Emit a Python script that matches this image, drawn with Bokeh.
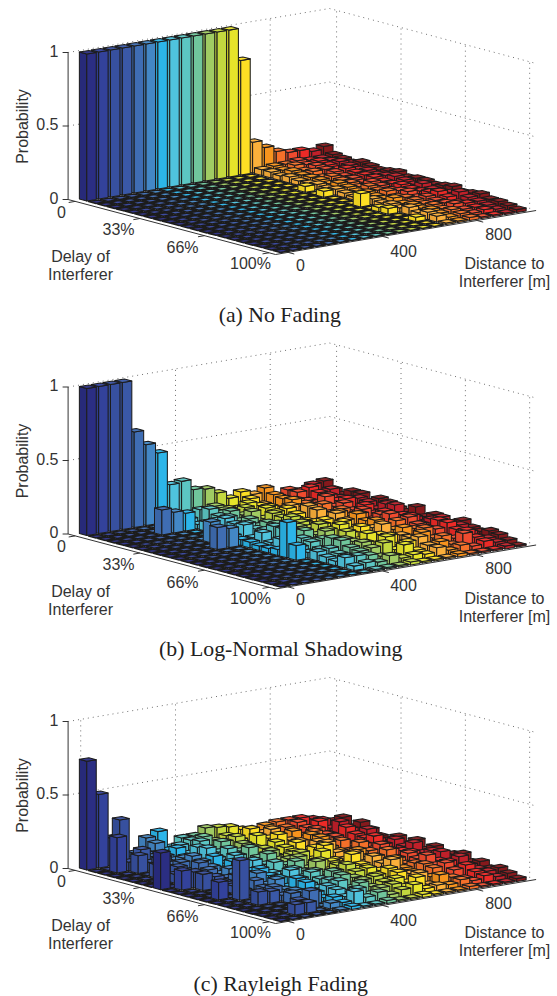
import numpy as np
from bokeh.plotting import figure
from bokeh.layouts import column
from bokeh.models import Range1d
from bokeh.core.properties import value
from bokeh.embed import file_html
from bokeh.resources import INLINE

COLORS = ["#2b2e83","#33429b","#37509f","#3a58a6","#3f6db3","#4387c5","#2cb5e9",
          "#4fc3dd","#5cc6c3","#70c69c","#a0cb63","#c3d83f","#e6e42a","#fddf24","#fbb03b",
          "#f7941e","#f4702a","#ef4b2f","#ec2a27","#c1202a","#86191c"]
DIST_TICKS = [("0",0),("400",8),("800",16)]
DELAY_TICKS = [("0",0),("33%",7),("66%",14),("100%",21)]
PROB_TICKS = [("0",0.0),("0.5",0.5),("1",1.0)]

Z = [0]*13
NO_FADING = [
 [100]*13+[78,21,16,12,10,10,8,10],
 Z+[0,4,5,5,6,5,5,6], Z+[0,4,4,6,5,6,5,5], Z+[0,3,5,4,6,5,6,4], Z+[0,4,4,5,5,4,5,6],
 Z+[0,3,4,3,5,6,4,5], Z+[0,3,4,5,4,5,5,4], Z+[4,4,3,4,4,5,4,5], Z+[0,3,5,4,3,5,5,6],
 Z+[4,4,4,3,5,4,6,4], Z+[0,3,3,5,4,4,5,5], Z+[0,2,4,4,3,5,4,5], Z+[0,3,3,5,4,4,6,4],
 Z+[9,4,3,3,5,4,4,5], Z+[0,3,5,4,3,5,4,6], Z+[3,4,3,4,5,7,5,4], Z+[4,3,4,3,4,5,7,5],
 Z+[0,5,3,4,4,3,5,6], Z+[0,3,4,3,5,4,4,4], Z+[3,5,3,4,3,3,3,4], Z+[0,4,2,3,2,3,2,3],
 Z+[0,1,1,2,1,1,1,2],
]
LOG_NORMAL = [
 [100,100,100,100,65,55,48,25,26,19,18,14,9,12,9,12,5,8,6,9,10],
 [0,0,0,0,0,0,0,0,6,4,8,5,4,9,4,9,5,8,10,3,6],
 [0,0,0,0,0,0,0,5,10,6,7,4,9,6,3,8,6,4,8,9,4],
 [0,0,0,0,17,14,12,3,12,8,5,9,4,7,4,9,5,4,8,5,8],
 [0,0,0,0,0,0,0,6,9,11,7,4,9,3,8,6,4,10,6,3,8],
 [0,0,0,0,0,0,0,9,10,6,11,5,8,9,4,5,8,5,9,8,4],
 [0,0,0,0,0,0,0,12,6,9,4,10,5,7,11,5,4,9,3,7,8],
 [0,0,0,0,0,14,0,10,9,6,5,9,7,4,10,3,8,6,8,4,7],
 [0,0,0,0,0,0,5,11,7,10,4,11,6,5,3,9,5,8,4,9,5],
 [0,0,0,0,15,13,4,4,8,11,5,9,5,8,11,4,8,3,7,10,4],
 [0,0,0,0,0,0,4,9,12,5,9,7,8,4,8,11,4,8,5,3,9],
 [0,0,0,0,0,0,3,4,12,9,5,11,4,10,5,8,3,10,8,5,4],
 [0,0,0,0,0,0,3,8,5,11,7,9,11,6,4,10,5,4,9,3,7],
 [0,0,0,0,0,0,4,5,9,6,11,4,7,10,8,4,10,11,5,7,4],
 [0,0,0,0,0,0,24,6,8,9,6,11,4,5,12,7,5,8,4,10,5],
 [0,0,0,0,0,0,10,4,5,11,9,4,10,8,4,10,8,7,11,6,8],
 [0,0,0,0,0,0,0,6,7,11,9,7,4,9,8,3,10,8,11,8,5],
 [0,0,0,0,0,0,0,4,5,8,10,5,11,4,8,10,5,3,8,5,4],
 [0,0,0,0,0,0,0,3,5,7,8,10,4,8,10,3,8,5,9,3,6],
 [0,0,0,0,0,0,0,7,7,6,4,3,9,4,6,7,4,10,6,4,5],
 [0,0,0,0,0,0,0,3,4,3,6,3,4,3,6,3,5,3,5,3,3],
 [0,0,0,0,0,0,0,0,1,1,1,2,1,1,1,2,1,1,1,2,1],
]
RAYLEIGH = [
 [74,50,19,0,6,15,18,6,11,11,15,14,13,10,7,10,11,11,11,9,4],
 [0,0,33,5,8,13,7,9,11,12,8,10,6,12,8,5,9,11,6,10,8],
 [0,24,6,13,7,6,10,5,12,6,9,11,5,8,12,7,5,9,12,6,12],
 [0,0,12,6,8,5,6,11,7,12,5,7,12,9,5,11,7,10,5,12,7],
 [0,0,0,10,5,8,4,12,8,5,11,7,5,13,8,5,11,8,5,9,12],
 [0,0,9,5,8,11,6,7,12,9,4,8,11,5,9,12,5,8,13,5,9],
 [0,0,0,8,4,9,11,5,9,13,6,5,9,11,5,12,8,5,10,12,6],
 [0,0,6,5,11,7,4,12,6,8,11,5,8,5,12,7,10,5,9,7,5],
 [25,0,0,6,8,4,11,8,5,12,7,9,4,11,13,6,5,8,12,5,9],
 [0,13,11,5,4,9,7,12,8,5,9,12,6,14,8,5,12,6,8,10,5],
 [0,0,11,8,6,5,8,6,11,8,12,5,13,6,5,10,8,11,5,7,10],
 [0,0,0,6,9,5,11,7,5,12,6,10,8,5,11,7,4,9,7,11,5],
 [0,0,0,5,4,11,8,5,10,7,12,5,7,13,6,9,12,5,8,6,9],
 [0,12,0,4,9,5,8,12,6,9,5,10,7,8,12,5,8,10,6,9,5],
 [0,0,27,0,6,10,4,8,11,5,9,12,8,5,9,11,6,8,5,10,7],
 [0,0,0,0,8,5,11,6,8,12,4,9,10,7,13,6,8,12,7,5,9],
 [0,0,9,8,4,6,10,5,9,11,8,5,7,10,6,5,9,7,8,10,5],
 [0,0,0,0,7,4,5,8,10,4,8,9,5,9,7,4,8,10,5,6,7],
 [0,0,0,0,0,8,3,7,4,9,5,7,8,4,9,5,3,7,9,5,4],
 [0,0,0,7,12,0,5,4,8,3,6,7,4,9,3,8,5,3,6,5,6],
 [0,0,7,7,0,4,3,9,4,6,3,5,7,3,4,3,5,3,5,3,4],
 [0,0,0,0,0,1,2,1,1,2,1,1,2,1,1,1,2,1,1,1,2],
]
PANELS = [("(a)  No Fading",NO_FADING,0.0,282),("(b)  Log-Normal Shadowing",LOG_NORMAL,334.5,283),("(c)  Rayleigh Fading",RAYLEIGH,669.0,283)]

A,B,C,F = (67.6,199.0),(329.0,155.0),(535.6,210.0),(275.0,254.0)
ZPX = 147.0
def homography():
    (x0,y0),(x1,y1),(x2,y2),(x3,y3) = A,B,C,F
    dx1,dx2,dx3 = x1-x2, x3-x2, x0-x1+x2-x3
    dy1,dy2,dy3 = y1-y2, y3-y2, y0-y1+y2-y3
    d = dx1*dy2-dx2*dy1
    g = (dx3*dy2-dx2*dy3)/d
    h = (dx1*dy3-dx3*dy1)/d
    return np.array([[x1-x0+g*x1, x3-x0+h*x3, x0],[y1-y0+g*y1, y3-y0+h*y3, y0],[g,h,1.0]])
H = homography()
def proj(u,v,z=0.0,dy=0.0):
    q = H @ np.array([u,v,1.0])
    return q[0]/q[2], q[1]/q[2]-z*ZPX+dy
U0,UP,V0,VP = 0.0255,0.0453,0.012,0.0445
WID = 0.8
def shade(c,f):
    r = [int(c[k:k+2],16) for k in (1,3,5)]
    r = [min(255,int(x*f)) if f<=1 else min(255,int(x+(255-x)*(f-1))) for x in r]
    return "#%02x%02x%02x"%tuple(r)

def panel(title,rows,dy,cap_x,top,bottom):
    p = figure(width=557,height=bottom-top,x_range=Range1d(0,557),y_range=Range1d(bottom,top),
               output_backend="svg",toolbar_location=None,x_axis_location=None,y_axis_location=None,
               min_border=0,outline_line_color=None)
    p.grid.visible = False
    P = lambda u,v,z=0.0: proj(u,v,z,dy)
    gx,gy = [],[]
    for z in (0.5,1.0):
        a,b,c = P(0,0,z),P(1,0,z),P(1,1,z)
        gx.append([a[0],b[0],c[0]]); gy.append([a[1],b[1],c[1]])
    for _,j in DIST_TICKS:
        u = U0+(j+.5)*UP
        a,b = P(u,0,0),P(u,0,1)
        gx.append([a[0],b[0]]); gy.append([a[1],b[1]])
    for _,i in DELAY_TICKS:
        v = V0+(i+.5)*VP
        a,b = P(1,v,0),P(1,v,1)
        gx.append([a[0],b[0]]); gy.append([a[1],b[1]])
    p.multi_line(gx,gy,line_color="#707070",line_width=1,line_dash="1 4")
    ax,ay = [],[]
    a0,a1 = P(0,0,0),P(0,0,1)
    ax.append([a0[0],a1[0]]); ay.append([a0[1],a1[1]])
    f,c = P(0,1),P(1,1)
    ax.append([a0[0],f[0],c[0]]); ay.append([a0[1],f[1],c[1]])
    for _,z in PROB_TICKS:
        q = P(0,0,z); ax.append([q[0]-5.5,q[0]]); ay.append([q[1],q[1]])
    for _,i in DELAY_TICKS:
        v = V0+(i+.5)*VP; s,e = P(0,v),P(-0.025,v)
        ax.append([s[0],e[0]]); ay.append([s[1],e[1]])
    for _,j in DIST_TICKS:
        u = U0+(j+.5)*UP; s,e = P(u,1),P(u,1.03)
        ax.append([s[0],e[0]]); ay.append([s[1],e[1]])
    p.multi_line(ax,ay,line_color="#333333",line_width=1)
    xs,ys,fc,lw = [],[],[],[]
    n = len(rows)
    for i in range(n):
        for j in range(len(rows[i])-1,-1,-1):
            h = rows[i][j]/100.0
            u0,u1 = U0+(j+.5-WID/2)*UP, U0+(j+.5+WID/2)*UP
            v0,v1 = V0+(i+.5-WID/2)*VP, V0+(i+.5+WID/2)*VP
            col = COLORS[j]
            if h>0:
                q = [P(u0,v0,0),P(u0,v1,0),P(u0,v1,h),P(u0,v0,h)]
                xs.append([t[0] for t in q]); ys.append([t[1] for t in q]); fc.append(shade(col,.93)); lw.append(1.05)
                q = [P(u0,v1,0),P(u1,v1,0),P(u1,v1,h),P(u0,v1,h)]
                xs.append([t[0] for t in q]); ys.append([t[1] for t in q]); fc.append(col); lw.append(1.05)
            q = [P(u0,v0,h),P(u1,v0,h),P(u1,v1,h),P(u0,v1,h)]
            xs.append([t[0] for t in q]); ys.append([t[1] for t in q]); fc.append(shade(col,1.05)); lw.append(1.05 if h>0 else 1.6)
    p.patches(xs=xs,ys=ys,fill_color=fc,line_color="#1c1c1c",line_width=lw,line_join="round")
    T = dict(text_font=value("Liberation Sans"),text_font_size="16px",text_color="#333333",text_baseline="middle")
    p.text([58,58,58],[P(0,0,z)[1]-2 for _,z in PROB_TICKS],[l for l,_ in PROB_TICKS],text_align="right",**T)
    dl = [(61,211),(118,229),(182,247),(250,263)]
    p.text([d[0] for d in dl],[d[1]+dy for d in dl],[l for l,_ in DELAY_TICKS],text_align="center",**T)
    dd = [(300,264),(403,250),(498,233)]
    p.text([d[0] for d in dd],[d[1]+dy for d in dd],[l for l,_ in DIST_TICKS],text_align="center",**T)
    p.text([80,80],[256+dy,274+dy],["Delay of","Interferer"],text_align="center",**T)
    p.text([504,504],[263+dy,281+dy],["Distance to","Interferer [m]"],text_align="center",**T)
    p.text([22],[126+dy],["Probability"],angle=np.pi/2,text_align="center",**T)
    p.text([cap_x],[314+dy],[title],text_align="center",text_font=value("Liberation Serif"),
           text_font_size="21.8px",text_color="#222222",text_baseline="middle")
    return p

bounds = [(0,335),(335,665),(665,996)]
figs = [panel(t,r,d,cx,b[0],b[1]) for (t,r,d,cx),b in zip(PANELS,bounds)]
root = column(*figs,spacing=0)
open("out.html","w").write(file_html(root,INLINE))
